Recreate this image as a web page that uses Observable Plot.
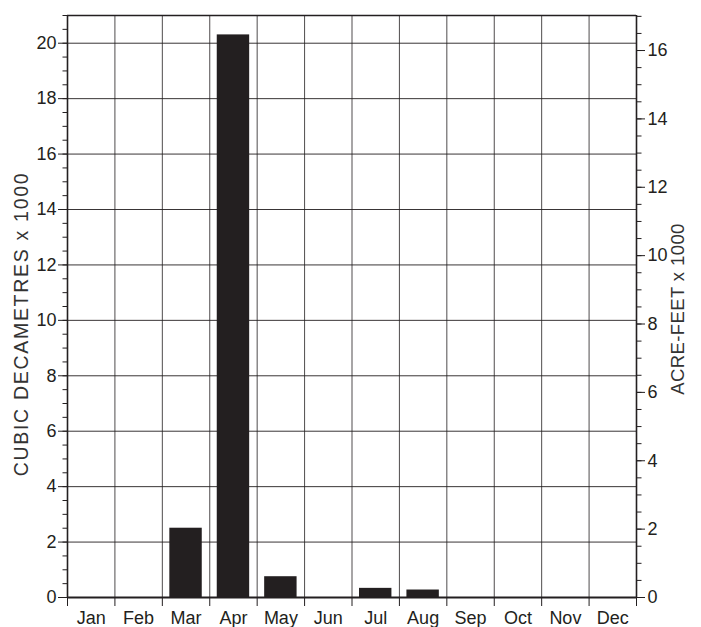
<!DOCTYPE html>
<html>
<head>
<meta charset="utf-8">
<script src="https://cdn.jsdelivr.net/npm/d3@7"></script>
<script src="https://cdn.jsdelivr.net/npm/@observablehq/plot@0.6"></script>
<style>
  html, body { margin: 0; padding: 0; background: #fff; }
</style>
</head>
<body>
<div id="chart"></div>
<script>
const months = ["Jan","Feb","Mar","Apr","May","Jun","Jul","Aug","Sep","Oct","Nov","Dec"];
const volumes = [0, 0, 2.5, 20.3, 0.75, 0, 0.33, 0.27, 0, 0, 0, 0]; // cubic decametres x 1000
const leftTicks = [0, 2, 4, 6, 8, 10, 12, 14, 16, 18, 20];
const rightTicks = [0, 2, 4, 6, 8, 10, 12, 14, 16]; // acre-feet x 1000
const leftLabel = "CUBIC DECAMETRES x 1000";
const rightLabel = "ACRE-FEET x 1000";
const DAM3_PER_AF = 1.2335;

const data = months.map((m, i) => ({month: m, i, value: volumes[i]}));
const ink = "#231f20";
const leftMinor = d3.range(0, 21.01, 0.5);
const rightMinor = d3.range(0, 17.01, 0.5).map(v => v * DAM3_PER_AF);

const plot = Plot.plot({
  width: 701,
  height: 627,
  marginLeft: 67,
  marginRight: 65,
  marginTop: 15,
  marginBottom: 30,
  style: {fontFamily: "'Liberation Sans', Arial, Helvetica, sans-serif", fontSize: "18px", background: "#fff", color: ink},
  x: {type: "linear", domain: [0, 12], axis: null},
  y: {domain: [0, 21], axis: null},
  marks: [
    // grid
    Plot.ruleY(d3.range(2, 21, 2), {stroke: ink, strokeWidth: 1, strokeOpacity: 0.9}),
    Plot.ruleX(d3.range(1, 12), {stroke: ink, strokeWidth: 1, strokeOpacity: 0.8}),
    // bars
    Plot.rectY(data.filter(d => d.value > 0), {x1: "i", x2: d => d.i + 1, y: "value", insetLeft: 7.5, insetRight: 7.5, fill: ink}),
    // frame
    Plot.ruleX([0, 12], {stroke: ink, strokeWidth: 1.6}),
    Plot.ruleY([21], {stroke: ink, strokeWidth: 1.6}),
    Plot.ruleY([0], {stroke: ink, strokeWidth: 2.2}),
    // left axis
    Plot.axisY({anchor: "left", ticks: leftTicks, tickSize: 9, tickPadding: 2, fontSize: 18, stroke: ink, fill: ink, label: null}),
    Plot.axisY({anchor: "left", ticks: leftMinor, tickSize: 4.5, text: null, stroke: ink, label: null}),
    // right axis (acre-feet)
    Plot.axisY({anchor: "right", ticks: rightTicks.map(v => v * DAM3_PER_AF), tickFormat: d => String(Math.round(d / DAM3_PER_AF)), tickSize: 8, tickPadding: 3, fontSize: 18, stroke: ink, fill: ink, label: null}),
    Plot.axisY({anchor: "right", ticks: rightMinor, tickSize: 4.5, text: null, stroke: ink, label: null}),
    // x axis ticks at month boundaries
    Plot.axisX({ticks: d3.range(0, 13), tickSize: 9, text: null, stroke: ink, label: null}),
    // month labels
    Plot.text(data, {x: d => d.i + 0.5, frameAnchor: "bottom", text: "month", lineAnchor: "bottom", dy: 26, fontSize: 18, fill: ink}),
    // axis titles
    Plot.text([leftLabel], {frameAnchor: "left", textAnchor: "middle", rotate: -90, dx: -46, dy: 17.5, fontSize: 19.5, fill: "#333"}),
    Plot.text([rightLabel], {frameAnchor: "right", textAnchor: "middle", rotate: -90, dx: 42, dy: 2.5, fontSize: 18.5, fill: "#333"})
  ]
});

const svg = d3.select(plot);
svg.selectAll("text")
  .filter(function() { return this.textContent === leftLabel; })
  .attr("letter-spacing", "1.7px");
svg.selectAll("text")
  .filter(function() { return this.textContent === rightLabel; })
  .attr("letter-spacing", "0.4px");

document.getElementById("chart").appendChild(plot);
</script>
</body>
</html>
